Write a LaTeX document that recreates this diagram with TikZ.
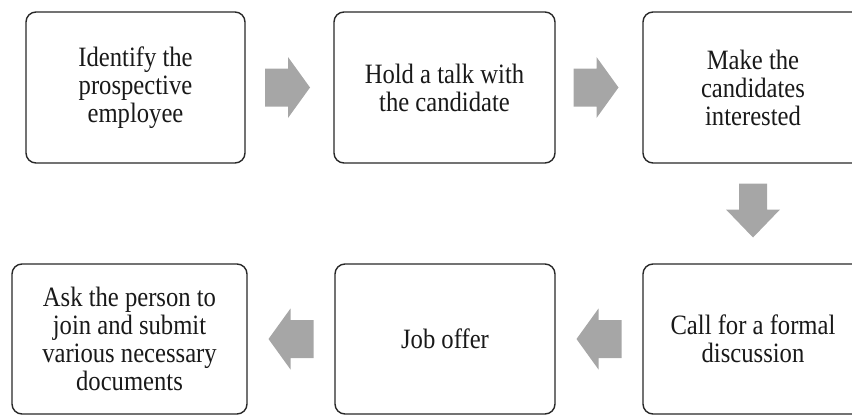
\documentclass[tikz,border=0pt]{standalone}
\usepackage{fontspec}
\setmainfont{Liberation Serif}[FakeStretch=0.88]
\usetikzlibrary{calc}
\definecolor{arrowgray}{RGB}{166,166,166}
\definecolor{boxline}{RGB}{40,40,40}
\tikzset{
  stepbox/.style={draw=boxline, line width=1.4pt, rounded corners=10pt, fill=white,
    align=center, inner sep=4pt, minimum height=151pt,
    font=\fontsize{28}{28}\selectfont, text=black!90},
  pics/hblock/.style={code={
    \fill[arrowgray] (-22.5,-19) -- (0.5,-19) -- (0.5,-30.5) -- (22.5,0)
      -- (0.5,30.5) -- (0.5,19) -- (-22.5,19) -- cycle;}},
  pics/vblock/.style={code={
    \fill[arrowgray] (-27,-14) -- (-1,-14) -- (-1,-27) -- (27,0)
      -- (-1,27) -- (-1,14) -- (-27,14) -- cycle;}}
}
\begin{document}
\begin{tikzpicture}[x=1pt, y=-1pt]
  \useasboundingbox (0,0) rectangle (852,415);
  \clip (0,0) rectangle (852,415);

  % top row
  \node[stepbox, minimum width=219pt] (identify) at (135.5,87.5)
    {Identify the\\prospective\\employee};
  \node[stepbox, minimum width=221pt] (talk) at (444.5,87.5)
    {Hold a talk with\\the candidate};
  \node[stepbox, minimum width=220pt] (interest) at (753,87.5)
    {Make the\\candidates\\interested};

  % bottom row
  \node[stepbox, minimum width=220pt, minimum height=150pt] (formal) at (753,339)
    {Call for a formal\\discussion};
  \node[stepbox, minimum width=220pt, minimum height=150pt] (offer) at (445,339)
    {Job offer};
  \node[stepbox, minimum width=235pt, minimum height=150pt] (join) at (129.5,339)
    {Ask the person to\\join and submit\\various necessary\\documents};

  % block arrows between the steps
  \pic at ($(identify.east)!0.5!(talk.west)+(-2,0)$) {hblock};
  \pic at ($(talk.east)!0.5!(interest.west)+(-3,0)$) {hblock};
  \pic[rotate=-90] at ($(interest.south)!0.5!(formal.north)+(0,-3)$) {vblock};
  \pic[rotate=180] at ($(formal.west)!0.5!(offer.east)$) {hblock};
  \pic[rotate=180] at ($(offer.west)!0.5!(join.east)$) {hblock};
\end{tikzpicture}
\end{document}
